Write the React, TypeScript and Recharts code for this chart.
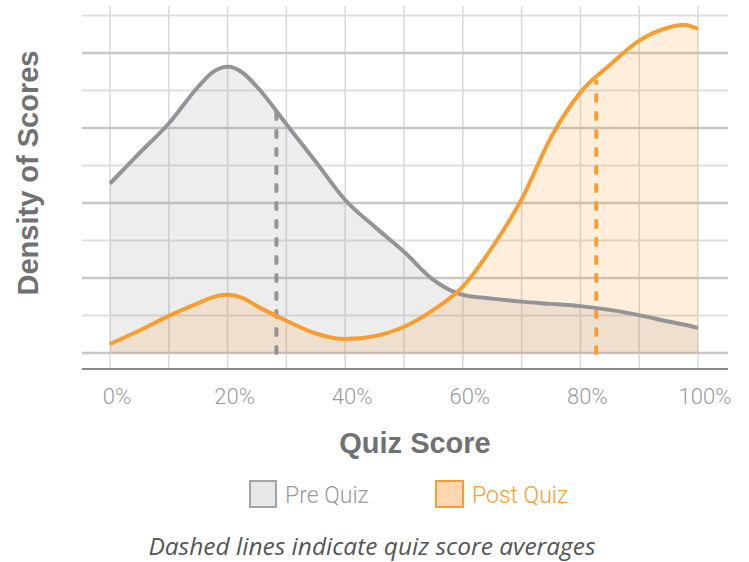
import React from 'react';
import { ComposedChart, Area, Line, XAxis, YAxis, CartesianGrid, ReferenceLine } from 'recharts';

// Quiz score (%) sample positions
const scorePct = [0, 5, 10, 15, 17.5, 20, 22.5, 25, 30, 35, 40, 45, 50, 55, 60, 65, 70, 75, 80, 85, 90, 95, 97.5, 100];
// Density values
const preQuiz = [4.52, 5.33, 6.12, 7.1, 7.49, 7.63, 7.48, 7.1, 6.1, 5.1, 4.08, 3.37, 2.7, 1.95, 1.55, 1.45, 1.37, 1.31, 1.25, 1.15, 1.01, 0.84, 0.76, 0.67];
const postQuiz = [0.24, 0.6, 0.99, 1.33, 1.49, 1.55, 1.47, 1.25, 0.86, 0.52, 0.37, 0.45, 0.7, 1.15, 1.77, 2.82, 4.1, 5.75, 6.95, 7.68, 8.33, 8.68, 8.75, 8.64];

// Averages (dashed lines): score and height reached
const preMean = { score: 28.3, top: 6.4 };
const postMean = { score: 82.7, top: 7.23 };

const xTicks = [0, 20, 40, 60, 80, 100];
const gridX = [0, 10, 20, 30, 40, 50, 60, 70, 80, 90, 100];
const gridMajorY = [0, 2, 4, 6, 8];
const gridMinorY = [1, 3, 5, 7, 9];

const seriesNames = ['Pre Quiz', 'Post Quiz'];
const xTitle = 'Quiz Score';
const yTitle = 'Density of Scores';
const caption = 'Dashed lines indicate quiz score averages';

const data = scorePct.map((x, i) => ({ x, pre: preQuiz[i], post: postQuiz[i] }));

const GRAY = '#929497';
const ORANGE = '#f89d2f';

export default function App() {
  return (
    <div style={{ position: 'absolute', left: 0, top: 0, width: 749, height: 562, background: '#fff' }}>
      <ComposedChart
        width={749}
        height={562}
        data={data}
        margin={{ top: 6, right: 21, bottom: 153, left: 82 }}
      >
        <CartesianGrid horizontal={false} verticalValues={gridX} stroke="#d8d8d8" strokeWidth={1.5} />
        <CartesianGrid vertical={false} horizontalValues={gridMinorY} stroke="#dfdfdf" strokeWidth={2} />
        <CartesianGrid vertical={false} horizontalValues={gridMajorY} stroke="#c8c8c8" strokeWidth={2.5} />
        <XAxis
          dataKey="x"
          type="number"
          domain={[-4.76, 105.1]}
          allowDataOverflow
          ticks={xTicks}
          tickFormatter={(v: number) => `${v}%`}
          tickLine={false}
          tickMargin={13}
          height={40}
          axisLine={{ stroke: '#8a8a8a', strokeWidth: 2 }}
          tick={{ fill: '#9a9a9a', fontSize: 22, fontFamily: 'Roboto', fontWeight: 300, dx: 7 }}
        />
        <YAxis hide width={0} type="number" domain={[-0.4267, 9.2533]} allowDataOverflow />
        <Area
          type="monotone"
          dataKey="pre"
          baseValue={0}
          stroke="none"
          fill="#939598"
          fillOpacity={0.17}
          isAnimationActive={false}
        />
        <Area
          type="monotone"
          dataKey="post"
          baseValue={0}
          stroke="none"
          fill="#f7941d"
          fillOpacity={0.15}
          isAnimationActive={false}
        />
        <ReferenceLine
          segment={[{ x: preMean.score, y: 0 }, { x: preMean.score, y: preMean.top }]}
          stroke={GRAY}
          strokeWidth={4}
          strokeDasharray="6 12"
          strokeLinecap="round"
        />
        <ReferenceLine
          segment={[{ x: postMean.score, y: 0 }, { x: postMean.score, y: postMean.top }]}
          stroke={ORANGE}
          strokeWidth={4}
          strokeDasharray="6 12"
          strokeLinecap="round"
        />
        <Line
          type="monotone"
          dataKey="pre"
          stroke={GRAY}
          strokeWidth={4}
          dot={false}
          activeDot={false}
          isAnimationActive={false}
        />
        <Line
          type="monotone"
          dataKey="post"
          stroke={ORANGE}
          strokeWidth={4}
          dot={false}
          activeDot={false}
          isAnimationActive={false}
        />
      </ComposedChart>
      <svg
        width={749}
        height={562}
        style={{ position: 'absolute', left: 0, top: 0, pointerEvents: 'none' }}
      >
        <text
          x={415}
          y={453}
          textAnchor="middle"
          fontFamily="'Liberation Sans', Arial, sans-serif"
          fontWeight={700}
          fontSize={29}
          fill="#707173"
        >
          {xTitle}
        </text>
        <text
          transform="translate(38,173) rotate(-90)"
          textAnchor="middle"
          fontFamily="'Liberation Sans', Arial, sans-serif"
          fontWeight={700}
          fontSize={29}
          fill="#707173"
        >
          {yTitle}
        </text>
        <rect x={250} y={481} width={26} height={26} fill="#e6e7e8" stroke="#a3a4a6" strokeWidth={2} />
        <text x={285} y={503} fontFamily="Roboto" fontWeight={300} fontSize={23} fill="#9a9a9a">
          {seriesNames[0]}
        </text>
        <rect x={436} y={481} width={27} height={26} fill="#fdd7b2" stroke={ORANGE} strokeWidth={2} />
        <text x={472} y={503} fontFamily="Roboto" fontWeight={300} fontSize={23} fill={ORANGE}>
          {seriesNames[1]}
        </text>
        <text
          x={372}
          y={555}
          textAnchor="middle"
          fontFamily="'Open Sans', sans-serif"
          fontStyle="italic"
          fontSize={24.5}
          fill="#555555"
        >
          {caption}
        </text>
      </svg>
    </div>
  );
}
